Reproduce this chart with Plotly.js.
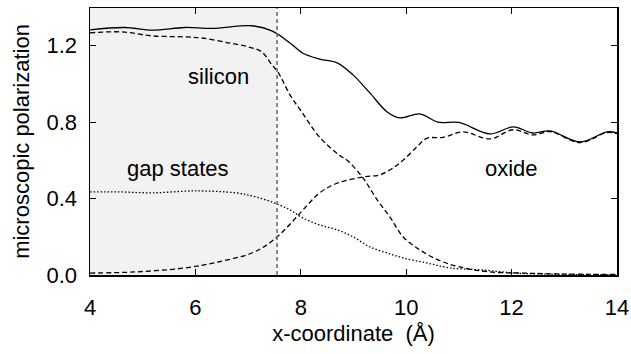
<!DOCTYPE html>
<html>
<head>
<meta charset="utf-8">
<script src="https://cdn.plot.ly/plotly-3.0.1.min.js"></script>
<style>html,body{margin:0;padding:0;background:#fff;}#chart{width:631px;height:354px;}</style>
</head>
<body>
<div id="chart"></div>
<script>
// Total polarization (solid)
const totalX = [4.0, 4.66, 5.18, 5.8, 6.31, 7.07, 7.45, 7.8, 8.04, 8.36, 8.69, 8.99, 9.31, 9.64, 9.88, 10.26, 10.6, 11.0, 11.59, 12.03, 12.4, 12.73, 13.3, 13.81, 14.0];
const totalY = [1.283, 1.295, 1.281, 1.295, 1.29, 1.304, 1.277, 1.213, 1.16, 1.13, 1.11, 1.047, 0.953, 0.853, 0.822, 0.843, 0.80, 0.798, 0.738, 0.775, 0.743, 0.754, 0.696, 0.749, 0.743];

// Silicon contribution (dashed, decreasing)
const siliconX = [4.0, 4.6, 5.18, 5.8, 6.12, 6.62, 7.0, 7.26, 7.45, 7.57, 7.8, 8.0, 8.36, 8.74, 8.88, 9.18, 9.45, 9.69, 9.94, 10.26, 10.64, 11.02, 11.59, 12.22, 13.0, 14.0];
const siliconY = [1.267, 1.272, 1.251, 1.246, 1.24, 1.215, 1.194, 1.167, 1.10, 1.06, 0.94, 0.86, 0.72, 0.625, 0.60, 0.508, 0.393, 0.304, 0.20, 0.131, 0.075, 0.042, 0.016, 0.01, 0.005, 0.003];

// Oxide contribution (dashed, increasing)
const oxideX = [4.0, 4.85, 5.8, 6.43, 7.07, 7.42, 7.74, 8.04, 8.36, 8.69, 9.18, 9.5, 9.75, 9.94, 10.2, 10.39, 10.7, 11.08, 11.59, 12.03, 12.4, 12.73, 13.3, 13.81, 14.0];
const oxideY = [0.01, 0.016, 0.037, 0.068, 0.115, 0.17, 0.25, 0.34, 0.43, 0.48, 0.513, 0.524, 0.56, 0.60, 0.67, 0.715, 0.72, 0.749, 0.712, 0.76, 0.733, 0.75, 0.693, 0.745, 0.74];

// Gap states contribution (dotted)
const gapX = [4.0, 4.53, 5.18, 6.0, 6.76, 7.07, 7.45, 7.8, 8.04, 8.36, 8.69, 8.99, 9.31, 9.64, 9.94, 10.39, 10.83, 11.46, 12.1, 13.0, 14.0];
const gapY = [0.435, 0.435, 0.43, 0.44, 0.43, 0.414, 0.382, 0.34, 0.298, 0.262, 0.236, 0.20, 0.147, 0.115, 0.089, 0.063, 0.037, 0.026, 0.01, 0.003, 0.001];

const interfaceX = 7.55;
const xTicks = [4, 6, 8, 10, 12, 14];
const yTicks = [0.0, 0.4, 0.8, 1.2];
const yTickText = ['0.0', '0.4', '0.8', '1.2'];

const labels = [
  {text: 'silicon', x: 6.43, y: 1.04},
  {text: 'gap states', x: 5.67, y: 0.555},
  {text: 'oxide', x: 12.0, y: 0.555}
];

const lw = 1.3;
const traces = [
  {x: totalX, y: totalY, mode: 'lines', line: {color: '#000', width: lw, shape: 'spline', smoothing: 1}},
  {x: siliconX, y: siliconY, mode: 'lines', line: {color: '#000', width: lw, dash: '5px,3px', shape: 'spline', smoothing: 1}},
  {x: oxideX, y: oxideY, mode: 'lines', line: {color: '#000', width: lw, dash: '5px,3px', shape: 'spline', smoothing: 1}},
  {x: gapX, y: gapY, mode: 'lines', line: {color: '#000', width: lw, dash: '1.5px,2px', shape: 'spline', smoothing: 1}}
];

const font = {family: 'Liberation Sans, Arial, sans-serif', size: 22, color: '#000'};

const layout = {
  width: 631, height: 354,
  margin: {l: 90, r: 14, t: 8, b: 79, pad: 0},
  paper_bgcolor: '#fff', plot_bgcolor: '#fff',
  showlegend: false,
  font: font,
  xaxis: {
    range: [4, 14], tickvals: xTicks, ticktext: xTicks.map(String),
    ticks: 'inside', ticklen: 6, tickwidth: 1.2, tickcolor: '#000',
    showline: true, linecolor: '#000', linewidth: 1.5, mirror: 'ticks',
    showgrid: false, zeroline: false,
    tickfont: font, ticklabelstandoff: 12,
    title: {text: 'x-coordinate  (Å)', font: font, standoff: 6}
  },
  yaxis: {
    range: [0, 1.397], tickvals: yTicks, ticktext: yTickText,
    ticks: 'inside', ticklen: 6, tickwidth: 1.2, tickcolor: '#000',
    showline: true, linecolor: '#000', linewidth: 1.5, mirror: 'ticks',
    showgrid: false, zeroline: false,
    tickfont: font, ticklabelstandoff: 7,
    title: {text: 'microscopic polarization', font: font, standoff: 11}
  },
  shapes: [
    {type: 'rect', xref: 'x', yref: 'paper', x0: 4, x1: interfaceX, y0: 0, y1: 1,
     fillcolor: '#f2f2f2', line: {width: 0}, layer: 'below'},
    {type: 'line', xref: 'x', yref: 'paper', x0: interfaceX, x1: interfaceX, y0: 0, y1: 1,
     line: {color: '#666', width: 1.5, dash: '4px,3px'}, layer: 'above'}
  ],
  annotations: labels.map(l => ({text: l.text, x: l.x, y: l.y, xref: 'x', yref: 'y', showarrow: false, font: font}))
};

Plotly.newPlot('chart', traces, layout, {displayModeBar: false, staticPlot: true});
</script>
</body>
</html>
